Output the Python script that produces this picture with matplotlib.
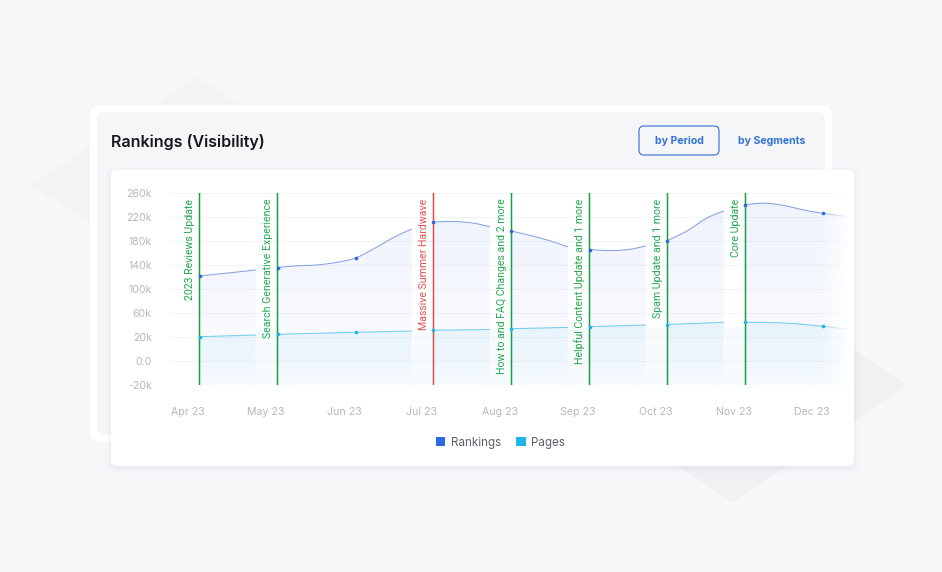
import numpy as np
import matplotlib
matplotlib.use('Agg')
import matplotlib.pyplot as plt
from matplotlib.patches import FancyBboxPatch, Polygon, Patch
from matplotlib.colors import to_rgb
from matplotlib.path import Path

months = ['Apr 23', 'May 23', 'Jun 23', 'Jul 23', 'Aug 23', 'Sep 23', 'Oct 23', 'Nov 23', 'Dec 23']
y_ticks = [-20, 0, 20, 60, 100, 140, 180, 220, 260]
y_labels = ['-20k', '0.0', '20k', '60k', '100k', '140k', '180k', '220k', '260k']

# x in months after the Apr marker, one list per unbroken piece of line
rank_x = [[0, .24, .48, .72],
          [1, 1.25, 1.5, 1.75, 2, 2.25, 2.5, 2.72],
          [3, 3.25, 3.5, 3.72],
          [4, 4.25, 4.5, 4.72],
          [5, 5.25, 5.5, 5.72],
          [6, 6.25, 6.5, 6.72],
          [7, 7.25, 7.5, 7.75, 8, 8.32]]
rank_y = [[121.7, 125, 128.3, 131.7],
          [135.8, 138.7, 140, 144.2, 151.7, 168.3, 186.7, 200],
          [211.7, 212.5, 210, 203.8],
          [196.7, 189, 180, 170.5],
          [165.8, 164, 165.8, 171.7],
          [180.8, 196.7, 218, 230],
          [240.8, 243, 239, 231.7, 226, 220.5]]
page_x = [[0, .72],
          [1, 2, 2.72],
          [3, 3.72],
          [4, 4.72],
          [5, 5.72],
          [6, 6.72],
          [7, 7.5, 8, 8.32]]
page_y = [[20.5, 23.3],
          [24.5, 27.8, 30],
          [31.2, 32.5],
          [33.8, 36],
          [37.2, 40],
          [40.8, 44.5],
          [44.5, 43.3, 37.8, 32.8]]

event_x = [0, 1, 3, 4, 5, 6, 7]
event_names = ['2023 Reviews Update', 'Search Generative Experience', 'Massive Summer Hardwave',
               'How to and FAQ Changes and 2 more', 'Helpful Content Update and 1 more',
               'Spam Update and 1 more', 'Core Update']
event_colors = ['#1fa84f', '#1fa84f', '#e2504f', '#1fa84f', '#1fa84f', '#1fa84f', '#1fa84f']
event_lines = ['#18a046', '#18a046', '#dc4f4d', '#18a046', '#18a046', '#18a046', '#18a046']

W, H = 942, 572
ui_font = ['Inter', 'DejaVu Sans']
plt.rcParams['font.family'] = ui_font

fig = plt.figure(figsize=(W / 100, H / 100), dpi=100, facecolor='#f5f7f9')

# page background and cards, in pixels
bg = fig.add_axes([0, 0, 1, 1], zorder=0)
bg.set_xlim(0, W)
bg.set_ylim(H, 0)
bg.axis('off')


def card(x0, y0, x1, y1, r, color, **kw):
    bg.add_patch(FancyBboxPatch((x0 + r, y0 + r), x1 - x0 - 2 * r, y1 - y0 - 2 * r,
                                boxstyle='round,pad=%s,rounding_size=%s' % (r, r),
                                fc=color, ec='none', **kw))


bg.add_patch(Polygon([(32, 185), (197, 77), (362, 185), (197, 293)], fc='#f1f3f5', ec='none'))
bg.add_patch(Polygon([(906, 385), (733, 503), (560, 385), (733, 267)], fc='#eff1f3', ec='none'))
card(90, 105, 832, 442, 10, '#ffffff')
card(97, 112, 825, 435, 7, '#f4f6f8')
for grow, a in [(6, .008), (4, .01), (2, .014), (1, .018)]:
    card(111 - grow, 170 - grow + 2, 854 + grow, 466 + grow + 2, 6 + grow, '#5a6a80', alpha=a)
card(111, 170, 854, 466, 6, '#ffffff')

bg.text(111, 141.5, 'Rankings (Visibility)', fontsize=11.55, fontweight='semibold', color='#15181d',
        va='center', ha='left')
bg.add_patch(FancyBboxPatch((644, 131), 70, 19, boxstyle='round,pad=5,rounding_size=5',
                            fc='none', ec='#2f6fd0', lw=.8))
bg.text(679, 141, 'by Period', fontsize=7.6, fontweight='bold', color='#3472d6', va='center', ha='center')
bg.text(772, 141, 'by Segments', fontsize=7.6, fontweight='bold', color='#3472d6', va='center', ha='center')

# chart axes: spans 168.5..848.5 px across, 193..385 px down
ax = fig.add_axes([168.5 / W, 1 - 385 / H, 680 / W, 192 / H], zorder=1)
ax.patch.set_alpha(0)
ax.set_yscale('function', functions=(lambda v: np.interp(v, y_ticks, np.arange(9.)),
                                     lambda p: np.interp(p, np.arange(9.), y_ticks)))
for s in ax.spines.values():
    s.set_visible(False)


def smooth(xs, ys, n=8):
    # catmull-rom through the read values, only so the drawn line isn't faceted
    pts = np.column_stack([xs, ys], ).astype(float)
    pts = np.vstack([pts[0], pts, pts[-1]])
    out = [pts[1]]
    for i in range(1, len(pts) - 2):
        p0, p1, p2, p3 = pts[i - 1], pts[i], pts[i + 1], pts[i + 2]
        for t in np.linspace(0, 1, n + 1)[1:]:
            out.append(.5 * (2 * p1 + (p2 - p0) * t + (2 * p0 - 5 * p1 + 4 * p2 - p3) * t ** 2
                             + (3 * p1 - p0 - 3 * p2 + p3) * t ** 3))
    out = np.array(out)
    return out[:, 0], out[:, 1]


def gradient_fill(xs, ys, color, top_a, bottom_a):
    r, g, b = to_rgb(color)
    rgba = np.zeros((64, 2, 4))
    rgba[..., 0], rgba[..., 1], rgba[..., 2] = r, g, b
    rgba[..., 3] = np.linspace(top_a, bottom_a, 64)[:, None]
    im = ax.imshow(rgba, extent=(0, 1, 0, 1), transform=ax.transAxes, aspect='auto',
                   interpolation='bilinear', zorder=1)
    verts = [(xs[0], -20)] + list(zip(xs, ys)) + [(xs[-1], -20), (xs[0], -20)]
    im.set_clip_path(Path(verts), transform=ax.transData)


# pale columns in the breaks between pieces
for a, b in zip(rank_x[:-1], rank_x[1:]):
    ax.axvspan(a[-1], b[0], ymin=0, ymax=.3, color='#f7fbfe', lw=0, zorder=.5)

ax.set_yticks(y_ticks, y_labels)
ax.set_xticks(np.arange(9) - 11.5 / 78, months)
ax.tick_params(length=0, labelsize=7.6, labelcolor='#b4b7bc')
ax.tick_params(axis='y', pad=12)
ax.tick_params(axis='x', pad=16)
ax.grid(axis='y', color='#f3f4f6', lw=.8, zorder=.8)
ax.set_axisbelow(True)

for xs, ys in zip(rank_x, rank_y):
    gradient_fill(*smooth(xs, ys), '#5f86ea', .11, .015)
for xs, ys in zip(page_x, page_y):
    gradient_fill(*smooth(xs, ys), '#3db6ec', .2, .04)

for xs, ys in zip(rank_x, rank_y):
    ax.plot(*smooth(xs, ys), color='#86a3e2', lw=.75, zorder=3, solid_capstyle='round')
    ax.plot([x for x in xs if x == int(x)], [y for x, y in zip(xs, ys) if x == int(x)],
            ls='none', marker='o', ms=2.6, mfc='#2a68de', mec='none', zorder=5)
for xs, ys in zip(page_x, page_y):
    ax.plot(*smooth(xs, ys), color='#74cdec', lw=.75, zorder=3, solid_capstyle='round')
    ax.plot([x for x in xs if x == int(x)], [y for x, y in zip(xs, ys) if x == int(x)],
            ls='none', marker='o', ms=2.6, mfc='#1fb5ea', mec='none', zorder=5)

# soften the right edge
fade = np.ones((2, 64, 4))
fade[..., 3] = np.linspace(0, 1, 64)
ax.imshow(fade, extent=(.955, 1, 0, 1), transform=ax.transAxes, aspect='auto',
          interpolation='bilinear', zorder=4)

for x, name, tc, lc in zip(event_x, event_names, event_colors, event_lines):
    ax.axvline(x, color=lc, lw=1.1, zorder=4.5, snap=False, solid_capstyle='butt')
    ax.annotate(name, xy=(x, 260), xytext=(-7, -4), textcoords='offset points', rotation=90,
                ha='center', va='top', fontsize=7.6, color=tc, zorder=6,
                family=['Roboto', 'DejaVu Sans'])

ax.set_xlim(-31 / 78, 649 / 78)
ax.set_ylim(-20, 260)

handles = [Patch(fc='#2d6be4', label='Rankings'), Patch(fc='#1fb5ea', label='Pages')]
leg = fig.legend(handles=handles, loc='center', bbox_to_anchor=(500.5 / W, 1 - 443 / H), ncol=2,
                 frameon=False, fontsize=8.4, labelcolor='#5b606a', handlelength=.8, handleheight=.8,
                 handletextpad=.5, columnspacing=1.3)

fig.savefig('out.png', dpi=100, facecolor=fig.get_facecolor())
